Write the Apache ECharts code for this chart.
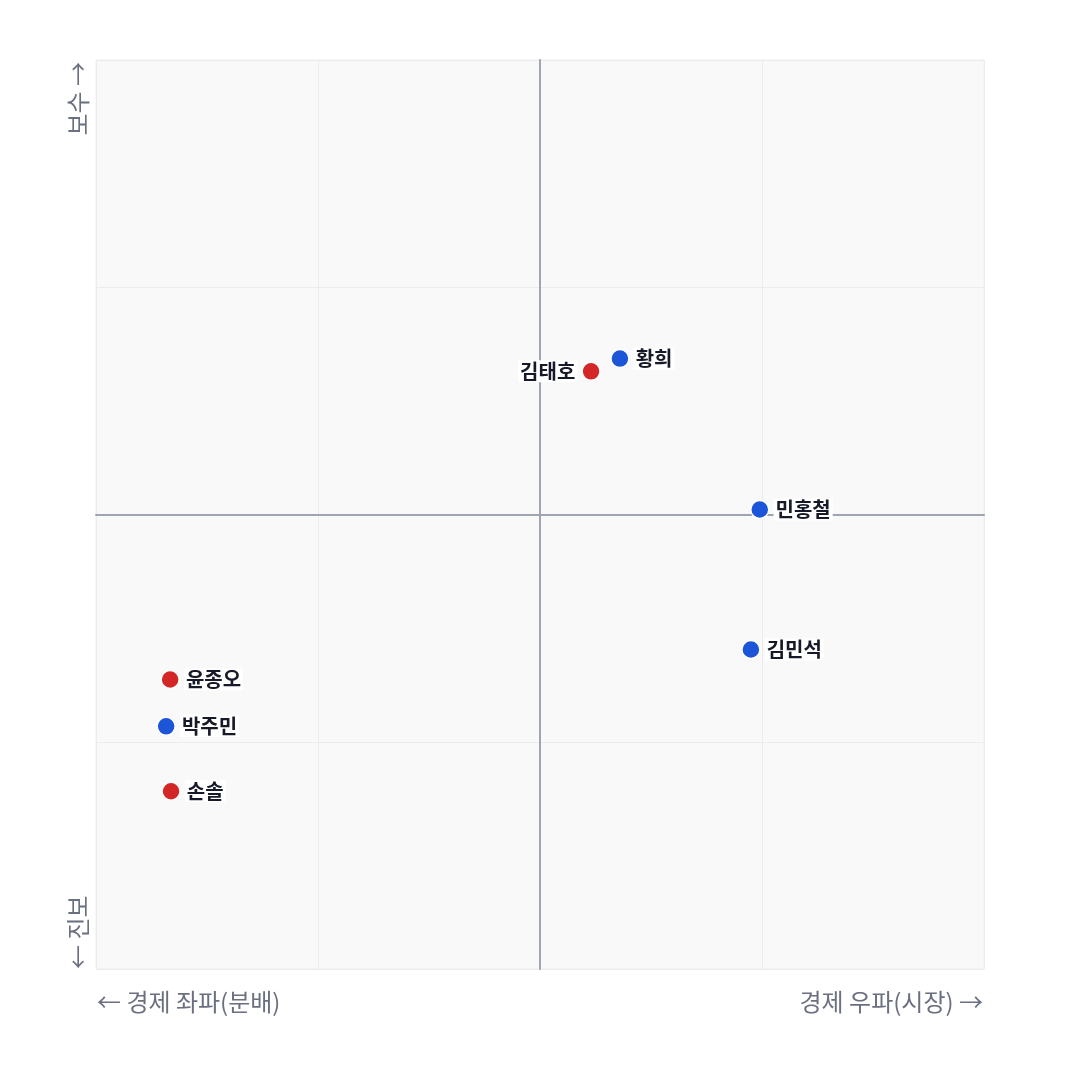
<!DOCTYPE html>
<html><head><meta charset="utf-8">
<script src="https://cdn.jsdelivr.net/npm/echarts@6/dist/echarts.min.js"></script>
<style>html,body{margin:0;padding:0;background:#fff}#c{width:1080px;height:1080px}</style>
</head><body><div id="c"></div>
<script>
const names = ['김태호','황희','민홍철','김민석','윤종오','박주민','손솔'];
const xs = [0.115, 0.18, 0.495, 0.475, -0.833, -0.842, -0.831];
const ys = [0.315, 0.343, 0.011, -0.297, -0.363, -0.466, -0.609];
const groups = ['red','blue','blue','blue','red','blue','red'];
const labelSides = ['left','right','right','right','right','right','right'];
const axisTexts = { xLeft: '← 경제 좌파(분배)', xRight: '경제 우파(시장) →', yTop: '보수 →', yBottom: '← 진보' };
const colors = { red: '#d32626', blue: '#1d55d8' };

const font = '"Noto Sans CJK KR", "Noto Sans", sans-serif';
const chart = echarts.init(document.getElementById('c'));
const mk = g => names.map((n,i)=> groups[i]===g ? {
  name: n, value: [xs[i], ys[i]],
  label: { position: labelSides[i] }
} : null).filter(Boolean);
const seriesFor = g => ({
  type: 'scatter', data: mk(g), symbolSize: 18,
  itemStyle: { color: colors[g], borderColor: '#fff', borderWidth: 1.5, opacity: 1 },
  label: { show: true, formatter: p => p.name, fontFamily: font, fontSize: 20, fontWeight: 'bold',
    color: '#161a28', backgroundColor: '#fff', padding: [1, 2], distance: 4 },
  emphasis: { disabled: true },
  z: 5
});
chart.setOption({
  animation: false,
  textStyle: { fontFamily: font },
  grid: { left: 96, right: 96, top: 60, bottom: 111, show: true, backgroundColor: '#f9f9f9', borderColor: '#eeeeee', borderWidth: 1 },
  xAxis: { type: 'value', min: -1, max: 1, interval: 0.5,
    axisLine: { onZero: true, lineStyle: { color: '#9ea5b0', width: 2 } },
    axisTick: { show: false }, axisLabel: { show: false },
    splitLine: { lineStyle: { color: '#ececec', width: 1 } } },
  yAxis: { type: 'value', min: -1, max: 1, interval: 0.5,
    axisLine: { onZero: true, lineStyle: { color: '#9ea5b0', width: 2 } },
    axisTick: { show: false }, axisLabel: { show: false },
    splitLine: { lineStyle: { color: '#ececec', width: 1 } } },
  graphic: [
    { type: 'text', left: 97, top: 990, style: { text: axisTexts.xLeft, font: '24px ' + font, fill: '#6b7080' } },
    { type: 'text', right: 97, top: 990, style: { text: axisTexts.xRight, font: '24px ' + font, fill: '#6b7080' } },
    { type: 'text', x: 66, y: 62, rotation: Math.PI/2, style: { text: axisTexts.yTop, font: '24px ' + font, fill: '#6b7080', align: 'right', verticalAlign: 'top' } },
    { type: 'text', x: 66, y: 969, rotation: Math.PI/2, style: { text: axisTexts.yBottom, font: '24px ' + font, fill: '#6b7080', align: 'left', verticalAlign: 'top' } }
  ],
  series: [seriesFor('red'), seriesFor('blue')]
});
</script></body></html>
